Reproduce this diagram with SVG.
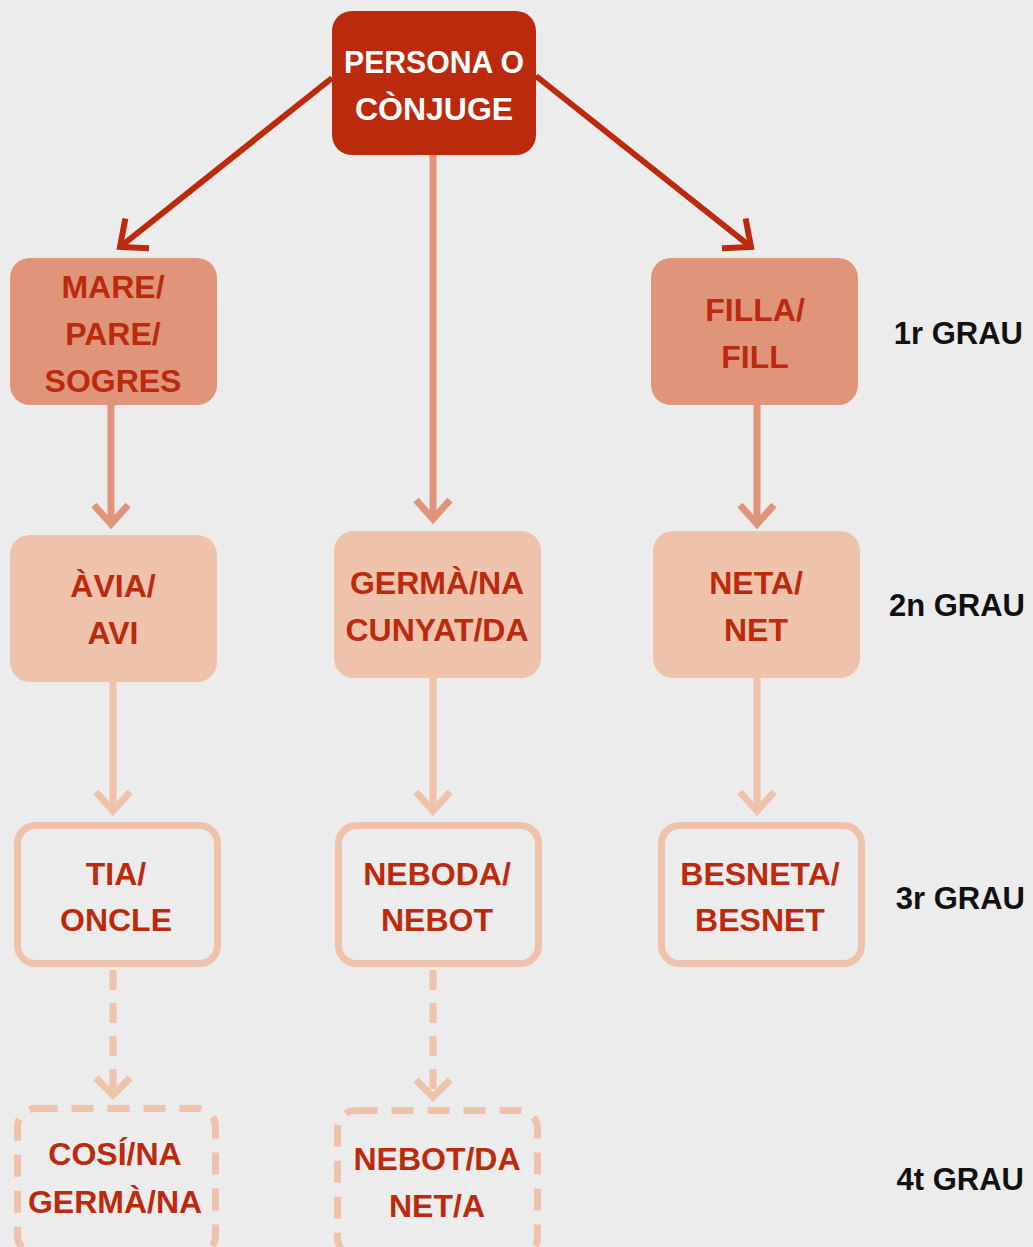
<svg xmlns="http://www.w3.org/2000/svg" width="1033" height="1247" viewBox="0 0 1033 1247">
<style>
.t{font-family:"Liberation Sans",Arial,sans-serif;font-weight:bold;font-size:32px;text-anchor:middle;fill:#bb2a0c}
.tw{fill:#ffffff}
.g{font-family:"Liberation Sans",Arial,sans-serif;font-weight:bold;font-size:31px;text-anchor:end;fill:#111}
.c1{fill:#bb2a0c}
.c2{fill:#e0957a}
.c3{fill:#eec2ab}
.o3{fill:none;stroke:#eec2ab;stroke-width:7}
.d4{fill:none;stroke:#eec2ab;stroke-width:7;stroke-dasharray:22 14}
.lr{stroke:#bb2a0c;stroke-width:6;fill:none}
.l2{stroke:#e0957a;stroke-width:7;fill:none}
.l3{stroke:#eec2ab;stroke-width:7;fill:none}
.l4{stroke:#eec2ab;stroke-width:7;fill:none;stroke-dasharray:20 13}
</style>
<defs>
<marker id="mr" viewBox="-30 -30 40 60" markerWidth="40" markerHeight="60" refX="0" refY="0" orient="auto" markerUnits="userSpaceOnUse"><path d="M-22,-19 L0,0 L-22,19" fill="none" stroke="#bb2a0c" stroke-width="6"/></marker>
<marker id="m2" viewBox="-30 -30 40 60" markerWidth="40" markerHeight="60" refX="0" refY="0" orient="auto" markerUnits="userSpaceOnUse"><path d="M-19,-17 L0,0 L-19,17" fill="none" stroke="#e0957a" stroke-width="7"/></marker>
<marker id="m3" viewBox="-30 -30 40 60" markerWidth="40" markerHeight="60" refX="0" refY="0" orient="auto" markerUnits="userSpaceOnUse"><path d="M-19,-17 L0,0 L-19,17" fill="none" stroke="#eec2ab" stroke-width="7"/></marker>
</defs>
<rect width="1033" height="1247" fill="#ececec"/>
<g id="connectors">
<line class="lr" x1="332" y1="78" x2="120" y2="247" marker-end="url(#mr)"/>
<line class="lr" x1="536" y1="76" x2="751" y2="247" marker-end="url(#mr)"/>
<line class="l2" x1="433" y1="155" x2="433" y2="519" marker-end="url(#m2)"/>
<line class="l2" x1="111" y1="405" x2="111" y2="524" marker-end="url(#m2)"/>
<line class="l2" x1="757" y1="405" x2="757" y2="524" marker-end="url(#m2)"/>
<line class="l3" x1="113" y1="682" x2="113" y2="811" marker-end="url(#m3)"/>
<line class="l3" x1="433" y1="678" x2="433" y2="811" marker-end="url(#m3)"/>
<line class="l3" x1="757" y1="678" x2="757" y2="811" marker-end="url(#m3)"/>
<line class="l4" x1="113" y1="970" x2="113" y2="1094"/>
<path class="l3" d="M96,1078 L113,1095 L130,1078"/>
<line class="l4" x1="433" y1="970" x2="433" y2="1096"/>
<path class="l3" d="M416,1080 L433,1097 L450,1080"/>
</g>
<g id="persona">
<rect class="c1" x="332" y="11" width="204" height="144" rx="20"/>
<text class="t tw" x="434" y="73" textLength="180" lengthAdjust="spacingAndGlyphs">PERSONA O</text>
<text class="t tw" x="434" y="120">CÒNJUGE</text>
</g>
<g id="mare">
<rect class="c2" x="10" y="258" width="207" height="147" rx="20"/>
<text class="t" x="113" y="298">MARE/</text>
<text class="t" x="113" y="345">PARE/</text>
<text class="t" x="113" y="392">SOGRES</text>
</g>
<g id="filla">
<rect class="c2" x="651" y="258" width="207" height="147" rx="20"/>
<text class="t" x="755" y="321">FILLA/</text>
<text class="t" x="755" y="368">FILL</text>
</g>
<g id="avia">
<rect class="c3" x="10" y="535" width="207" height="147" rx="20"/>
<text class="t" x="113" y="597">ÀVIA/</text>
<text class="t" x="113" y="644">AVI</text>
</g>
<g id="germa">
<rect class="c3" x="334" y="531" width="207" height="147" rx="20"/>
<text class="t" x="437" y="594">GERMÀ/NA</text>
<text class="t" x="437" y="641">CUNYAT/DA</text>
</g>
<g id="neta">
<rect class="c3" x="653" y="531" width="207" height="147" rx="20"/>
<text class="t" x="756" y="594">NETA/</text>
<text class="t" x="756" y="641">NET</text>
</g>
<g id="tia">
<rect class="o3" x="17.5" y="825.5" width="200" height="138" rx="18"/>
<text class="t" x="116" y="885">TIA/</text>
<text class="t" x="116" y="931">ONCLE</text>
</g>
<g id="neboda">
<rect class="o3" x="338.5" y="825.5" width="200" height="138" rx="18"/>
<text class="t" x="437" y="885">NEBODA/</text>
<text class="t" x="437" y="931">NEBOT</text>
</g>
<g id="besneta">
<rect class="o3" x="661.5" y="825.5" width="200" height="138" rx="18"/>
<text class="t" x="760" y="885">BESNETA/</text>
<text class="t" x="760" y="931">BESNET</text>
</g>
<g id="cosi">
<rect class="d4" x="17.5" y="1108.5" width="198" height="145" rx="18"/>
<text class="t" x="115" y="1165">COSÍ/NA</text>
<text class="t" x="115" y="1213">GERMÀ/NA</text>
</g>
<g id="nebot">
<rect class="d4" x="337.5" y="1110.5" width="200" height="145" rx="18"/>
<text class="t" x="437" y="1170">NEBOT/DA</text>
<text class="t" x="437" y="1217">NET/A</text>
</g>
<g id="graus">
<text class="g" x="1023" y="344">1r GRAU</text>
<text class="g" x="1025" y="616">2n GRAU</text>
<text class="g" x="1025" y="909">3r GRAU</text>
<text class="g" x="1024" y="1190">4t GRAU</text>
</g>
</svg>
